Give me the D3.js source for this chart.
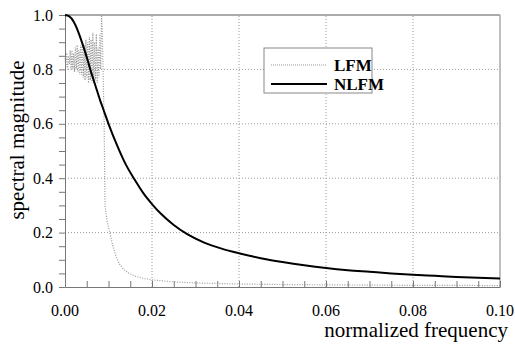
<!DOCTYPE html>
<head>
    <meta charset="utf-8">
    <title>spectral magnitude</title>
    <style>
        body { margin: 0; background: #fff; }
        text { font-family: "Liberation Serif", "Times New Roman", Times, serif; }
    </style>
</head>
<body>
    <svg width="515" height="347"></svg>
    <script src="https://d3js.org/d3.v7.min.js"></script>
    <script>

        // LFM spectrum: ripple region then steep fall-off and tail
        var lfmFreq = [0, 0.0002, 0.0004, 0.0006, 0.0008, 0.001, 0.0012, 0.0014, 0.0016, 0.0018,
            0.002, 0.0022, 0.0024, 0.0026, 0.0028, 0.003, 0.0032, 0.0034, 0.0036, 0.0038,
            0.004, 0.0042, 0.0044, 0.0046, 0.0048, 0.005, 0.0052, 0.0054, 0.0056, 0.0058,
            0.006, 0.0062, 0.0064, 0.0066, 0.0068, 0.007, 0.0072, 0.0074, 0.0076, 0.0078,
            0.008, 0.0082, 0.0084, 0.0086, 0.0088, 0.009, 0.0092, 0.0097, 0.0103, 0.011,
            0.0118, 0.0125, 0.0135, 0.0145, 0.016, 0.018, 0.02, 0.025, 0.03, 0.04,
            0.05, 0.06, 0.07, 0.08, 0.09, 0.1];
        var lfmMag = [0.84, 0.81, 0.86, 0.80, 0.85, 0.82, 0.87, 0.80, 0.87, 0.80,
            0.86, 0.79, 0.88, 0.80, 0.89, 0.79, 0.87, 0.78, 0.89, 0.78,
            0.90, 0.77, 0.89, 0.76, 0.91, 0.77, 0.90, 0.75, 0.92, 0.76,
            0.91, 0.75, 0.935, 0.75, 0.90, 0.76, 0.93, 0.75, 0.88, 0.77,
            0.93, 0.80, 1.0, 0.92, 0.76, 0.60, 0.30, 0.24, 0.20, 0.15,
            0.11, 0.085, 0.065, 0.052, 0.040, 0.032, 0.026, 0.019, 0.015, 0.011,
            0.009, 0.008, 0.007, 0.006, 0.006, 0.005];

        // NLFM spectrum
        var nlfmFreq = [0, 0.001, 0.002, 0.003, 0.004, 0.005, 0.006, 0.007, 0.008, 0.009,
            0.01, 0.012, 0.014, 0.016, 0.018, 0.02, 0.022, 0.025, 0.028, 0.032,
            0.036, 0.04, 0.045, 0.05, 0.055, 0.06, 0.065, 0.07, 0.075, 0.08,
            0.085, 0.09, 0.095, 0.1];
        var nlfmMag = [1.0, 0.995, 0.975, 0.94, 0.895, 0.845, 0.79, 0.74, 0.69, 0.645,
            0.60, 0.52, 0.45, 0.395, 0.345, 0.305, 0.27, 0.228, 0.195, 0.163,
            0.141, 0.124, 0.106, 0.092, 0.08, 0.07, 0.062, 0.056, 0.05, 0.045,
            0.041, 0.037, 0.034, 0.031];

        var xTicks = [0, 0.02, 0.04, 0.06, 0.08, 0.1];
        var yTicks = [0, 0.2, 0.4, 0.6, 0.8, 1.0];

        var svg = d3.select("svg");

        var x = d3.scaleLinear().domain([0, 0.1]).range([65, 500]),
            y = d3.scaleLinear().domain([0, 1]).range([287, 15]);

        var gridColor = "#999";

        // grid
        svg.append("g").selectAll("line")
            .data(xTicks.slice(1, -1))
            .enter().append("line")
            .attr("x1", d => x(d)).attr("x2", d => x(d))
            .attr("y1", y(0)).attr("y2", y(1))
            .attr("stroke", gridColor).attr("stroke-dasharray", "1,2");

        svg.append("g").selectAll("line")
            .data(yTicks.slice(1, -1))
            .enter().append("line")
            .attr("x1", x(0)).attr("x2", x(0.1))
            .attr("y1", d => y(d)).attr("y2", d => y(d))
            .attr("stroke", gridColor).attr("stroke-dasharray", "1,2");

        // frame (top and right)
        svg.append("line")
            .attr("x1", x(0)).attr("x2", x(0.1))
            .attr("y1", y(1)).attr("y2", y(1))
            .attr("stroke", "#aaa").attr("stroke-width", 2);
        svg.append("line")
            .attr("x1", x(0.1)).attr("x2", x(0.1))
            .attr("y1", y(1)).attr("y2", y(0))
            .attr("stroke", "#aaa").attr("stroke-width", 1.5);

        // x axis: minor ticks point up
        var xAxis = svg.append("g")
            .attr("transform", "translate(0," + y(0) + ")")
            .call(d3.axisBottom(x).ticks(20).tickSizeInner(-6).tickSizeOuter(0).tickFormat(""));
        xAxis.select(".domain").attr("stroke", "#777");
        xAxis.selectAll(".tick line").attr("stroke", "#777");

        svg.append("g").selectAll("text")
            .data(xTicks)
            .enter().append("text")
            .attr("x", d => x(d))
            .attr("y", 316)
            .attr("text-anchor", "middle")
            .style("font-size", "16px")
            .text(d => d3.format(".2f")(d));

        // y axis: ticks every 0.05 pointing left
        var yAxis = svg.append("g")
            .attr("transform", "translate(" + x(0) + ",0)")
            .call(d3.axisLeft(y).ticks(20).tickSizeInner(6).tickSizeOuter(0).tickFormat(""));
        yAxis.select(".domain").attr("stroke", "#777");
        yAxis.selectAll(".tick line").attr("stroke", "#777");

        svg.append("g").selectAll("text")
            .data(yTicks)
            .enter().append("text")
            .attr("x", 53)
            .attr("y", d => y(d))
            .attr("dy", "0.35em")
            .attr("text-anchor", "end")
            .style("font-size", "16px")
            .text(d => d3.format(".1f")(d));

        // curves
        var line = d3.line()
            .x(d => x(d[0]))
            .y(d => y(d[1]));

        svg.append("path")
            .datum(d3.zip(lfmFreq, lfmMag))
            .attr("fill", "none")
            .attr("stroke", "#999")
            .attr("stroke-width", 1.2)
            .attr("stroke-dasharray", "1,1.5")
            .attr("d", line);

        svg.append("path")
            .datum(d3.zip(nlfmFreq, nlfmMag))
            .attr("fill", "none")
            .attr("stroke", "#000")
            .attr("stroke-width", 2)
            .attr("d", line.curve(d3.curveMonotoneX));

        // legend
        var lg = svg.append("g").attr("transform", "translate(264,48)");
        lg.append("rect")
            .attr("width", 108).attr("height", 45)
            .attr("fill", "#fff").attr("stroke", "#888");
        lg.append("line")
            .attr("x1", 7).attr("x2", 63).attr("y1", 17).attr("y2", 17)
            .attr("stroke", "#999").attr("stroke-dasharray", "1,1");
        lg.append("line")
            .attr("x1", 7).attr("x2", 63).attr("y1", 36).attr("y2", 36)
            .attr("stroke", "#000").attr("stroke-width", 2);
        lg.append("text").attr("x", 70).attr("y", 23)
            .style("font-size", "17px").style("font-weight", "bold").text("LFM");
        lg.append("text").attr("x", 70).attr("y", 42)
            .style("font-size", "17px").style("font-weight", "bold").text("NLFM");

        // axis titles
        svg.append("text")
            .attr("x", 508).attr("y", 337)
            .attr("text-anchor", "end")
            .style("font-size", "21px")
            .text("normalized frequency");

        svg.append("text")
            .attr("transform", "translate(24,140) rotate(-90)")
            .attr("text-anchor", "middle")
            .style("font-size", "21px")
            .text("spectral magnitude");

    </script>
</body>
